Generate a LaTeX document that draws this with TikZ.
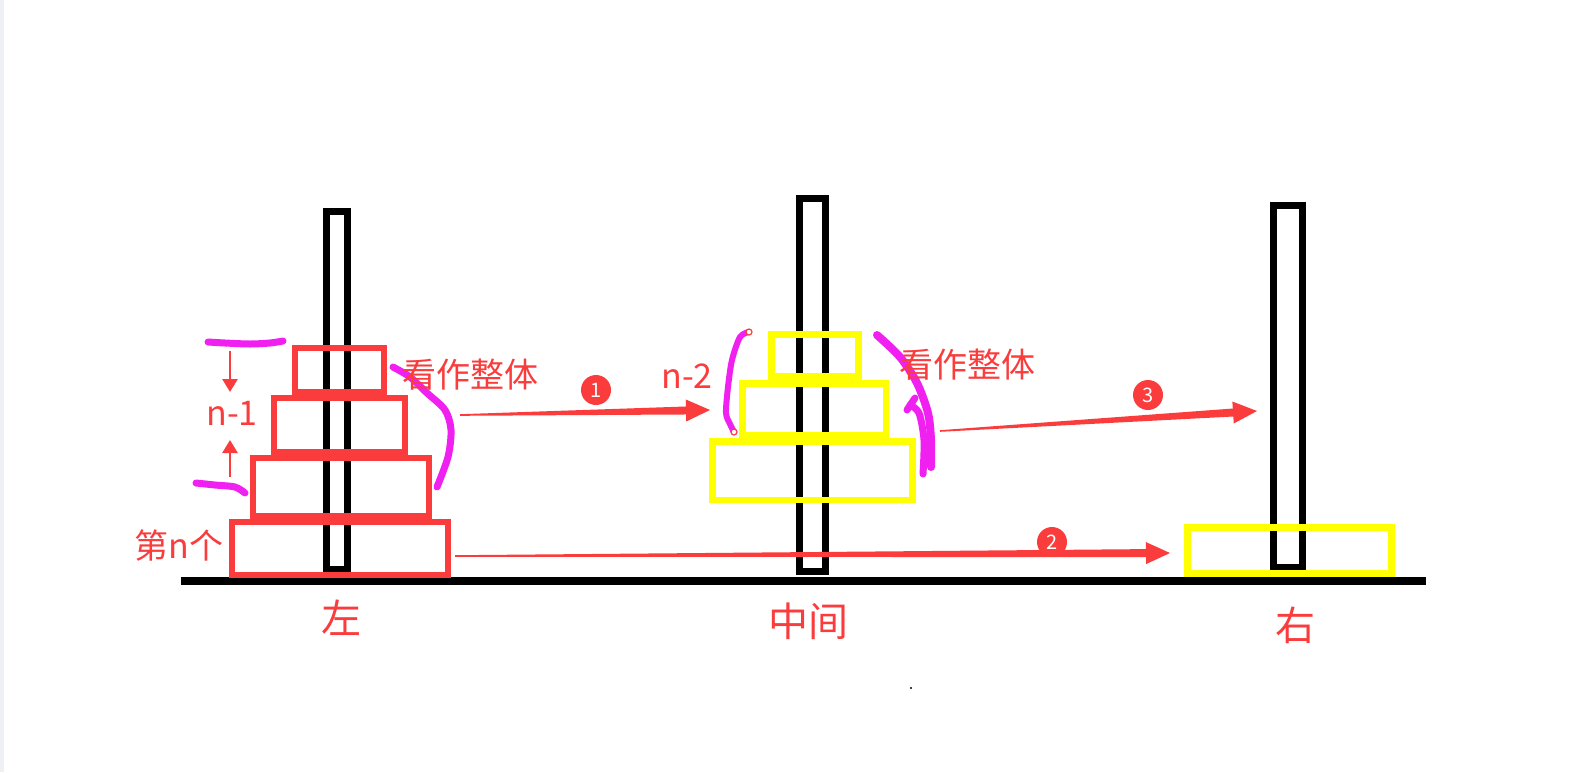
\documentclass[tikz,border=0pt]{standalone}
\usepackage{fontspec}
\setmainfont{Noto Sans CJK SC}
\usetikzlibrary{calc,arrows.meta}
\definecolor{hred}{HTML}{FA3C3C}
\definecolor{mag}{HTML}{F020F0}
\definecolor{hyel}{HTML}{FFFF00}
\definecolor{edge}{HTML}{EFF0F3}
\newcommand\tarrow[2]{%
  \coordinate (hb) at ($(#2)!12pt!(#1)$);
  \fill[hred] ($(#1)!0.4pt!90:(#2)$) -- ($(hb)!2pt!90:(#2)$) -- ($(hb)!5.5pt!90:(#2)$) -- (#2)
    -- ($(hb)!5.5pt!-90:(#2)$) -- ($(hb)!2pt!-90:(#2)$) -- ($(#1)!0.4pt!-90:(#2)$) -- cycle;}
\begin{document}
\begin{tikzpicture}[x=0.5pt,y=-0.5pt,
  pole/.style={draw=black,line width=3.25pt},
  rdisk/.style={draw=hred,line width=3pt},
  ydisk/.style={draw=hyel,line width=3.3pt},
  brace/.style={draw=mag,line width=3.5pt,line cap=round,line join=round},
  lbl/.style={text=hred,inner sep=0pt,font=\fontsize{17pt}{19pt}\selectfont},
  base/.style={text=hred,inner sep=0pt,font=\fontsize{20pt}{22pt}\selectfont},
  numcirc/.style={circle,fill=hred,text=white,minimum size=15pt,inner sep=0pt,font=\fontsize{10pt}{10pt}\selectfont},
  endmark/.style={circle,draw=hred,fill=white,line width=0.6pt,minimum size=3pt,inner sep=0pt},
  smallarrow/.style={draw=hred,line width=1.3pt,-{Triangle[length=6.5pt,width=7.5pt]}}]
\useasboundingbox (0,0) rectangle (1591,772);
\fill[white] (0,0) rectangle (1591,772);
\fill[edge] (0,0) rectangle (3.5,772);
% ground
\draw[line width=4pt] (180.6,581) -- (1425.7,581);
% poles
\draw[pole] (326.5,211.5) rectangle (347.5,569);
\draw[pole] (799.3,198.3) rectangle (825.7,571.5);
\draw[pole] (1273.3,205.6) rectangle (1302.4,567);
% left red disks
\draw[rdisk] (295.3,348) rectangle (383.7,392);
\draw[rdisk] (274.3,398) rectangle (404.7,452);
\draw[rdisk] (253,458) rectangle (428.7,516);
\draw[rdisk] (232,522) rectangle (447.7,575);
% middle yellow disks
\draw[ydisk] (771.6,334.3) rectangle (858.4,376.7);
\draw[ydisk] (742.6,383.3) rectangle (886,435);
\draw[ydisk] (712.3,441.6) rectangle (912.7,500);
% right yellow disk
\draw[ydisk] (1187.3,527.3) rectangle (1391.7,573.4);
% magenta marks
\draw[brace] plot[smooth] coordinates {(208,342) (225,343) (250,344) (270,343) (283,341)};
\draw[brace] plot[smooth] coordinates {(196,483) (215,485) (235,487) (245,493)};
\draw[brace] plot[smooth] coordinates {(393,367) (410,377) (427,393) (445,410) (451,430) (448,457) (437,487)};
\draw[brace,line width=3pt] plot[smooth] coordinates {(749,332) (740,337) (732,360) (728,387) (726,413) (730,424) (734,432)};
\node[endmark] (m1) at (749,332) {};
\node[endmark] (m2) at (734,432) {};
\draw[brace,line width=4pt] plot[smooth] coordinates {(877,335) (900,357) (917,383) (928,413) (931,440) (931,467)};
\draw[brace,line width=3.5pt] plot[smooth] coordinates {(923,474) (924,440) (919,413) (910,405)};
\draw[brace] (907,410) -- (915,398);
% small vertical arrows
\coordinate (a1s) at (230,351);
\coordinate (a1e) at (230,392);
\coordinate (a2s) at (230,477);
\coordinate (a2e) at (230,440);
\draw[smallarrow] (a1s) -- (a1e);
\draw[smallarrow] (a2s) -- (a2e);
% texts
\node[lbl] (n1) at (232,413) {n-1};
\node[lbl] (kz1) at (470,375) {看作整体};
\node[lbl] (dn) at (179,546) {第n个};
\node[lbl] (n2) at (687,376) {n-2};
\node[lbl] (kz2) at (967,365) {看作整体};
\node[base] (zuo) at (341,618) {左};
\node[base] (zj) at (808,621) {中间};
\node[base] (you) at (1295,625) {右};
% numbered circles
\node[numcirc] (c1) at (596,390) {1};
\node[numcirc] (c2) at (1052,542) {2};
\node[numcirc] (c3) at (1148,395) {3};
% big arrows
\coordinate (t1) at (460,415);
\coordinate (h1) at (710,410);
\coordinate (t2) at (455,556);
\coordinate (h2) at (1170,553);
\coordinate (t3) at (940,431);
\coordinate (h3) at (1257,411);
\tarrow{t1}{h1}
\tarrow{t2}{h2}
\tarrow{t3}{h3}
% tiny dot
\fill (911,688) circle (0.6pt);
\end{tikzpicture}
\end{document}
